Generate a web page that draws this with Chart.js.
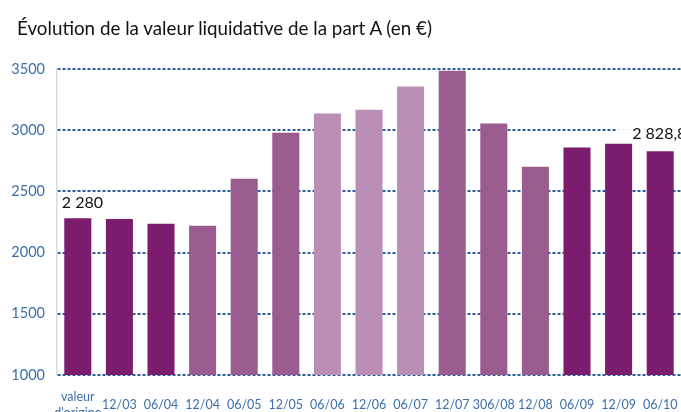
<!DOCTYPE html>
<html>
<head>
<meta charset="utf-8">
<script src="https://cdn.jsdelivr.net/npm/chart.js@4"></script>
<style>
body{margin:0;background:#fff;}
#wrap{position:relative;width:681px;height:412px;}
#titre{position:absolute;left:17px;top:16px;font-family:Lato,sans-serif;font-size:18.8px;color:#111;white-space:nowrap;}
</style>
</head>
<body>
<div id="wrap">
<div id="titre">Évolution de la valeur liquidative de la part A (en €)</div>
<canvas id="mainChart" width="681" height="412"></canvas>
</div>
<script>
// ================= DATA =================
let dates = [["valeur","d'origine"],"12/03","06/04","12/04","06/05","12/05","06/06","12/06","06/07","12/07","306/08","12/08","06/09","12/09","06/10"]
let valeurs = [2280,2275,2236,2219,2604,2980,3136,3168,3357,3486,3054,2702,2858,2890,2828.88]
let teintes = ["f","f","f","m","m","m","c","c","c","m","m","m","f","f","f"]
let etiquettes = {0:"2 280",14:"2 828,88"}
let yTicks = [1000,1500,2000,2500,3000,3500]

let palette = {f:"#7c1c6e",m:"#9a5b8e",c:"#bb8fb5"}

// ================= LABELS PLUGIN =================
let labelPlugin = {
id:"valLabels",
afterDatasetsDraw(chart){
let ctx = chart.ctx
let meta = chart.getDatasetMeta(0)
ctx.save()
ctx.font = "16px Lato, sans-serif"
ctx.textBaseline = "middle"
ctx.textAlign = "left"
for(let i in etiquettes){
let bar = meta.data[i]
let txt = etiquettes[i]
let first = (i==0)
let x = bar.x - (first ? 16 : 28)
let y = bar.y - (first ? 15 : 17)
let w = ctx.measureText(txt).width
// blanc derrière le texte (coupe la grille)
if(!first){
ctx.fillStyle = "#fff"
ctx.fillRect(x-15, y-5, w+30, 10)
}
ctx.fillStyle = "#111"
ctx.fillText(txt, x, y)
}
ctx.restore()
}
}

// ================= CHART =================
let ctx = document.getElementById("mainChart")

new Chart(ctx,{
type:"bar",
data:{
labels:dates,
datasets:[{
data:valeurs,
backgroundColor:teintes.map(t=>palette[t]),
barPercentage:0.65,
categoryPercentage:1
}]
},
options:{
responsive:false,
animation:false,
layout:{padding:{top:69,right:0,left:0,bottom:0}},
plugins:{legend:{display:false},tooltip:{enabled:false},title:{display:false}},
scales:{
x:{
afterFit(axis){axis.height = 37; axis.paddingLeft = 0; axis.paddingRight = 0},
grid:{display:false},
border:{display:false},
ticks:{color:"#3d6fa8",font:{family:"Lato",size:12.5,lineHeight:1.3},padding:14,maxRotation:0,autoSkip:false,crossAlign:"center"}
},
y:{
min:1000,max:3500,
afterBuildTicks(axis){axis.ticks = yTicks.map(v=>({value:v}))},
afterFit(axis){axis.width = 57},
grid:{color:"#2b5e98",lineWidth:2,drawTicks:false},
border:{display:true,color:"#d4dbe6",width:1.5,dash:[3,2]},
ticks:{color:"#3d6fa8",font:{family:"Lato",size:14.5},padding:12,callback:v=>String(v)}
}
}
},
plugins:[labelPlugin]
})
</script>
</body>
</html>
